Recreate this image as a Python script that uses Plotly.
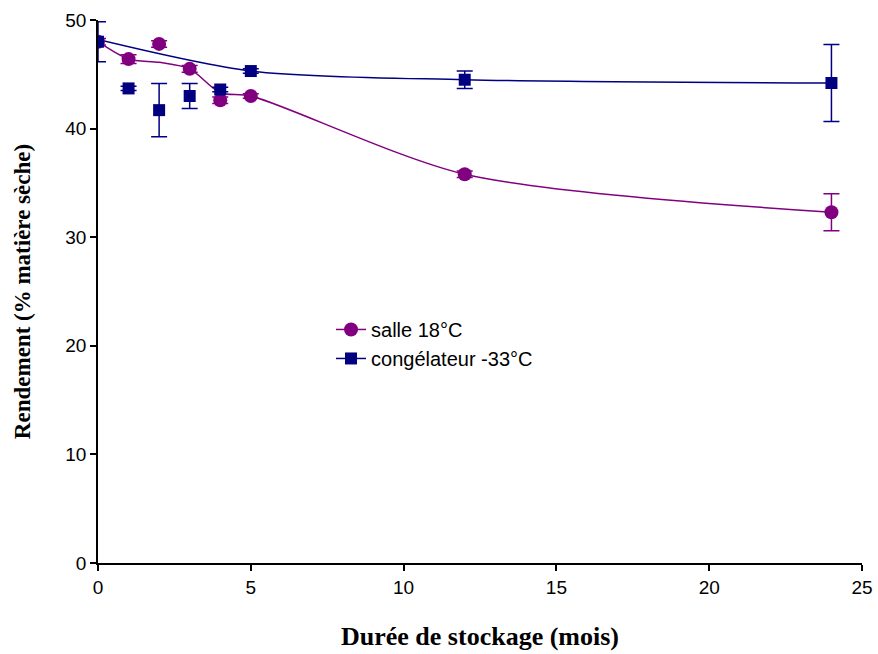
import plotly.graph_objects as go

# Data
months = [0, 1, 2, 3, 4, 5, 12, 24]

salle_vals = [48.0, 46.4, 47.8, 45.5, 42.6, 43.0, 35.8, 32.3]
salle_err = [0.3, 0.4, 0.3, 0.3, 0.3, 0.2, 0.3, 1.7]
salle_curve = [48.0, 46.4, 46.1, 45.5, 43.3, 43.0, 35.8, 32.3]

cong_vals = [48.0, 43.7, 41.7, 43.0, 43.6, 45.3, 44.5, 44.2]
cong_err = [1.85, 0.2, 2.45, 1.15, 0.2, 0.2, 0.8, 3.55]
cong_curve_x = [0, 5, 12, 24]
cong_curve = [48.2, 45.3, 44.5, 44.2]

x_ticks = [0, 5, 10, 15, 20, 25]
y_ticks = [0, 10, 20, 30, 40, 50]

PURPLE = "#800080"
NAVY = "#000080"

fig = go.Figure()

fig.add_trace(go.Scatter(x=months, y=salle_curve, mode="lines",
                         line=dict(color=PURPLE, width=1.5, shape="spline", smoothing=0.8),
                         showlegend=False, hoverinfo="skip"))
fig.add_trace(go.Scatter(x=cong_curve_x, y=cong_curve, mode="lines",
                         line=dict(color=NAVY, width=1.5, shape="spline", smoothing=0.8),
                         showlegend=False, hoverinfo="skip"))

fig.add_trace(go.Scatter(x=months, y=salle_vals, mode="markers",
                         marker=dict(symbol="circle", size=14, color=PURPLE),
                         error_y=dict(type="data", array=salle_err, color=PURPLE, thickness=1.5, width=8),
                         showlegend=False))
fig.add_trace(go.Scatter(x=months, y=cong_vals, mode="markers",
                         marker=dict(symbol="square", size=12, color=NAVY),
                         error_y=dict(type="data", array=cong_err, color=NAVY, thickness=1.5, width=8),
                         showlegend=False))

# legend entries
fig.add_trace(go.Scatter(x=[None], y=[None], mode="lines+markers", name="salle 18°C",
                         line=dict(color=PURPLE, width=1.5),
                         marker=dict(symbol="circle", size=14, color=PURPLE)))
fig.add_trace(go.Scatter(x=[None], y=[None], mode="lines+markers", name="congélateur -33°C",
                         line=dict(color=NAVY, width=1.5),
                         marker=dict(symbol="square", size=12, color=NAVY)))

fig.update_layout(
    width=878, height=654,
    margin=dict(l=98, r=16, t=20, b=91, autoexpand=False),
    plot_bgcolor="white", paper_bgcolor="white",
    font=dict(family="Liberation Sans, Arial", size=19, color="black"),
    legend=dict(x=0.305, y=0.466, xanchor="left", yanchor="top",
                bgcolor="rgba(0,0,0,0)", font=dict(size=20), tracegroupgap=0),
    xaxis=dict(range=[0, 25], tickvals=x_ticks, showline=True, linecolor="black", linewidth=1.5,
               ticks="outside", ticklen=6, tickwidth=1.5, tickcolor="black", showgrid=False, zeroline=False,
               automargin=False,
               title=dict(text="<b>Durée de stockage (mois)</b>",
                          font=dict(family="Liberation Serif, Times New Roman", size=26), standoff=30)),
    yaxis=dict(range=[0, 50], tickvals=y_ticks, showline=True, linecolor="black", linewidth=1.5,
               ticks="outside", ticklen=6, tickwidth=1.5, tickcolor="black", showgrid=False, zeroline=False,
               automargin=False,
               title=dict(text="<b>Rendement (% matière sèche)</b>",
                          font=dict(family="Liberation Serif, Times New Roman", size=23), standoff=28)),
)

fig.write_html("out.html", config={"displayModeBar": False},
               post_script="document.body.style.margin='0';document.body.style.overflow='hidden';")
